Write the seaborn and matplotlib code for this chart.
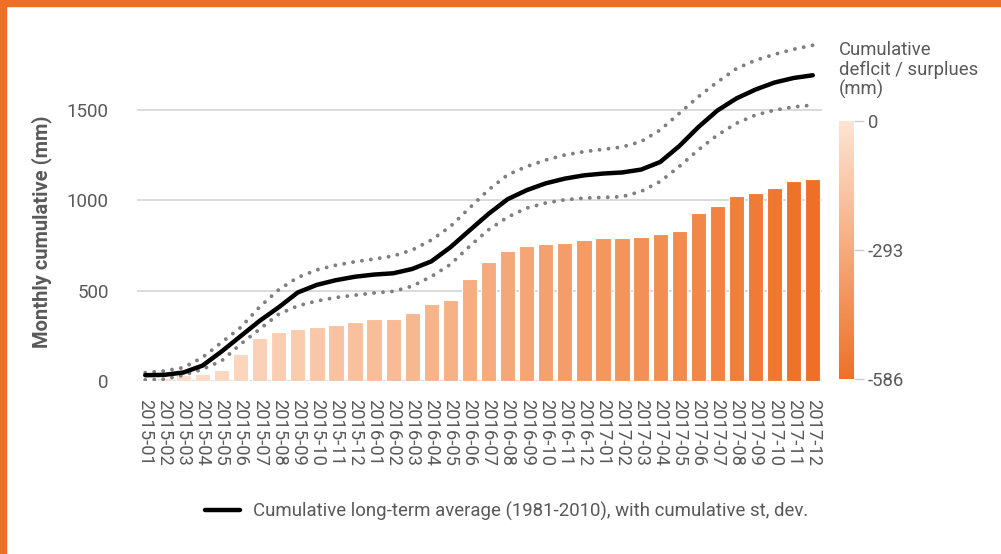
import numpy as np
import pandas as pd
import matplotlib
import matplotlib.pyplot as plt
import seaborn as sns
from matplotlib.colors import LinearSegmentedColormap, Normalize
from matplotlib.patches import Rectangle

# --- Data ---
months = [
    "2015-01", "2015-02", "2015-03", "2015-04", "2015-05", "2015-06",
    "2015-07", "2015-08", "2015-09", "2015-10", "2015-11", "2015-12",
    "2016-01", "2016-02", "2016-03", "2016-04", "2016-05", "2016-06",
    "2016-07", "2016-08", "2016-09", "2016-10", "2016-11", "2016-12",
    "2017-01", "2017-02", "2017-03", "2017-04", "2017-05", "2017-06",
    "2017-07", "2017-08", "2017-09", "2017-10", "2017-11", "2017-12",
]

# monthly cumulative precipitation (bars)
cumulative = [
    8, 18, 31, 37, 59, 148, 240, 272, 285, 297, 310, 328,
    343, 343, 378, 424, 446, 563, 661, 722, 749, 760, 766, 782,
    791, 791, 795, 815, 830, 932, 969, 1022, 1040, 1068, 1107, 1118,
]

# cumulative deficit / surplus (bar colour)
deficit = [
    -5, -20, -35, -50, -65, -80, -100, -115, -130, -150, -165, -180,
    -195, -210, -230, -245, -260, -275, -290, -310, -325, -340, -355, -370,
    -390, -405, -420, -435, -450, -470, -490, -510, -530, -550, -570, -586,
]

# long-term average and +/- st. dev. (lines)
lt_mean = [
    32, 34, 47, 85, 163, 248, 333, 408, 490, 532, 558, 577,
    589, 596, 620, 662, 740, 833, 925, 1006, 1056, 1094, 1120, 1138,
    1148, 1154, 1170, 1212, 1300, 1405, 1497, 1564, 1613, 1652, 1677, 1692,
]
lt_upper = [
    46, 56, 74, 130, 213, 296, 410, 505, 573, 615, 641, 660,
    675, 692, 725, 780, 855, 957, 1058, 1141, 1187, 1223, 1251, 1269,
    1282, 1295, 1325, 1389, 1481, 1573, 1655, 1729, 1775, 1808, 1836, 1858,
]
lt_lower = [
    6, 10, 32, 65, 111, 204, 287, 370, 416, 443, 462, 475,
    487, 496, 525, 578, 645, 745, 837, 907, 957, 985, 1003, 1012,
    1016, 1020, 1049, 1104, 1187, 1279, 1361, 1426, 1472, 1499, 1517, 1527,
]

yticks = [0, 500, 1000, 1500]
cbar_ticks = [0, -293, -586]

ORANGE = "#ee7026"
TEXT = "#595959"


def plot_chart():
    sns.set_theme(style="white")
    plt.rcParams["font.family"] = ["Roboto", "DejaVu Sans"]

    fig = plt.figure(figsize=(10.01, 5.54), dpi=100)
    ax = fig.add_axes([0.1365, 0.3123, 0.685, 0.636])

    cmap = LinearSegmentedColormap.from_list("defic", [ORANGE, "#fde4d3"])
    norm = Normalize(vmin=-586, vmax=0)
    bar_colors = [cmap(norm(d)) for d in deficit]

    df = pd.DataFrame({"month": months, "value": cumulative})

    # --- bars ---
    sns.barplot(data=df, x="month", y="value", hue="month", palette=bar_colors,
                legend=False, width=0.8, linewidth=0.8, edgecolor="white",
                saturation=1, ax=ax, zorder=2)

    # --- long-term average with st. dev. ---
    lines = pd.DataFrame({"idx": np.arange(len(months)), "mean": lt_mean,
                          "upper": lt_upper, "lower": lt_lower})
    for col in ["upper", "lower"]:
        sns.lineplot(data=lines, x="idx", y=col, ax=ax, color="#7f7f7f",
                     linewidth=2.8, linestyle=(0, (0.01, 2.3)),
                     dash_capstyle="round", zorder=3)
    sns.lineplot(data=lines, x="idx", y="mean", ax=ax, color="black",
                 linewidth=3.2, zorder=4,
                 label="Cumulative long-term average (1981-2010), with cumulative st, dev.")

    ax.set_xlim(-0.45, 35.5)
    ax.set_ylim(0, 1950)
    ax.set_yticks(yticks)
    ax.set_yticklabels([str(t) for t in yticks])
    ax.set_xticks(range(len(months)))
    ax.set_xticklabels(months, rotation=-90)
    ax.tick_params(axis="y", length=0, pad=20, labelsize=13.5, labelcolor=TEXT)
    ax.tick_params(axis="x", length=0, pad=13, labelsize=13.2, labelcolor=TEXT)
    ax.grid(True, axis="y", color="#d4d4d4", linewidth=1.2, zorder=0)
    ax.set_axisbelow(True)
    for s in ax.spines.values():
        s.set_visible(False)
    ax.set_xlabel("")
    ax.set_ylabel("Monthly cumulative (mm)", fontsize=14.5, fontweight="bold",
                  color=TEXT)
    ax.yaxis.set_label_coords(-0.124, 0.423)

    # --- legend ---
    leg = ax.legend(loc="center", bbox_to_anchor=(0.506, 0.077),
                    bbox_transform=fig.transFigure, frameon=False,
                    fontsize=13.4, handlelength=1.9, handletextpad=0.7)
    for t in leg.get_texts():
        t.set_color(TEXT)

    # --- colour bar ---
    cax = fig.add_axes([839 / 1001, 1 - 379 / 554, 15 / 1001, 258 / 554])
    sm = matplotlib.cm.ScalarMappable(norm=norm, cmap=cmap)
    cb = fig.colorbar(sm, cax=cax, ticks=cbar_ticks)
    cb.outline.set_visible(False)
    cb.ax.set_yticklabels([str(t) for t in cbar_ticks])
    cb.ax.tick_params(length=7, width=1, color="#cccccc", pad=3,
                      labelsize=13.3, labelcolor=TEXT)
    fig.text(839 / 1001, 1 - 41 / 554, "Cumulative\ndeflcit / surplues\n(mm)",
             ha="left", va="top", fontsize=13.3, color=TEXT, linespacing=1.1)

    # --- orange frame (top and left edges) ---
    fig.patches.append(Rectangle((0, 1 - 6 / 554), 1, 6 / 554, transform=fig.transFigure,
                                 color=ORANGE, zorder=10))
    fig.patches.append(Rectangle((0, 0), 6 / 1001, 1, transform=fig.transFigure,
                                 color=ORANGE, zorder=10))

    plt.savefig("out.png", dpi=100)


if __name__ == "__main__":
    plot_chart()
